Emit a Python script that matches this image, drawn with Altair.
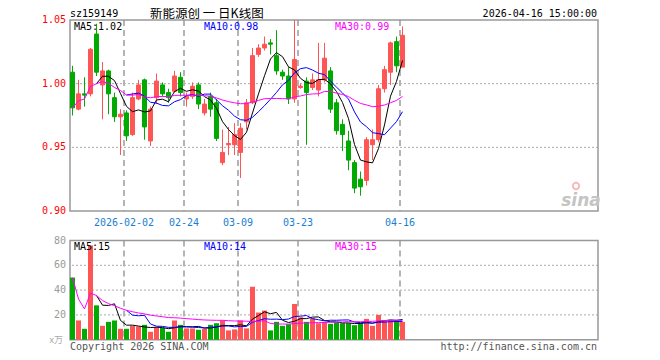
import altair as alt
import pandas as pd

# ---------------- data ----------------
dates = ["2026-01-20", "2026-01-21", "2026-01-22", "2026-01-23", "2026-01-26", "2026-01-27",
         "2026-01-28", "2026-01-29", "2026-01-30", "2026-02-02", "2026-02-03", "2026-02-04",
         "2026-02-05", "2026-02-06", "2026-02-09", "2026-02-10", "2026-02-11", "2026-02-12",
         "2026-02-13", "2026-02-24", "2026-02-25", "2026-02-26", "2026-02-27", "2026-03-02",
         "2026-03-03", "2026-03-04", "2026-03-05", "2026-03-06", "2026-03-09", "2026-03-10",
         "2026-03-11", "2026-03-12", "2026-03-13", "2026-03-16", "2026-03-17", "2026-03-18",
         "2026-03-19", "2026-03-20", "2026-03-23", "2026-03-24", "2026-03-25", "2026-03-26",
         "2026-03-27", "2026-03-30", "2026-03-31", "2026-04-01", "2026-04-02", "2026-04-03",
         "2026-04-07", "2026-04-08", "2026-04-09", "2026-04-10", "2026-04-13", "2026-04-14",
         "2026-04-15", "2026-04-16"]

opens = [1.009, 0.980, 0.992, 0.992, 1.039, 0.999, 1.010, 0.989, 0.974, 0.977,
         0.960, 0.988, 1.003, 0.955, 0.989, 0.999, 0.993, 0.994, 1.005, 0.988,
         0.990, 0.999, 0.977, 0.990, 0.985, 0.938, 0.952, 0.952, 0.946, 0.970,
         0.985, 1.023, 1.028, 1.032, 1.022, 1.009, 1.006, 0.988, 0.997, 1.002,
         0.997, 0.995, 1.003, 1.010, 0.985, 0.968, 0.955, 0.938, 0.925, 0.924,
         0.952, 0.956, 0.996, 1.009, 1.033, 1.013]
highs = [1.014, 1.003, 1.005, 1.028, 1.047, 1.017, 1.011, 0.993, 0.980, 0.979,
         0.993, 1.003, 1.004, 0.982, 1.008, 1.001, 0.996, 1.010, 1.009, 0.993,
         1.001, 1.001, 0.988, 0.993, 0.988, 0.964, 0.966, 0.969, 0.969, 0.988,
         1.028, 1.031, 1.037, 1.035, 1.042, 1.011, 1.013, 1.050, 1.000, 1.005,
         1.008, 1.032, 1.032, 1.013, 0.988, 0.972, 0.963, 0.940, 0.931, 0.958,
         0.964, 0.999, 1.014, 1.033, 1.037, 1.045]
lows = [0.975, 0.979, 0.982, 0.990, 1.006, 0.972, 0.976, 0.970, 0.944, 0.955,
        0.959, 0.987, 0.956, 0.951, 0.984, 0.990, 0.985, 0.993, 0.990, 0.982,
        0.988, 0.980, 0.975, 0.974, 0.955, 0.936, 0.944, 0.944, 0.926, 0.964,
        0.984, 1.021, 1.026, 1.023, 1.007, 1.003, 0.984, 0.985, 0.996, 0.952,
        0.995, 0.990, 1.001, 0.977, 0.960, 0.947, 0.932, 0.914, 0.912, 0.920,
        0.940, 0.954, 0.993, 0.999, 1.009, 1.013]
closes = [0.981, 0.992, 0.991, 1.027, 1.009, 1.010, 0.992, 0.974, 0.976, 0.959,
          0.989, 0.999, 0.966, 0.980, 1.002, 0.992, 0.989, 1.006, 0.993, 0.990,
          0.998, 0.984, 0.984, 0.980, 0.957, 0.946, 0.953, 0.960, 0.965, 0.985,
          1.022, 1.028, 1.031, 1.031, 1.010, 1.006, 0.988, 1.019, 0.998, 0.993,
          1.003, 1.003, 1.020, 0.980, 0.963, 0.960, 0.940, 0.918, 0.919, 0.956,
          0.956, 0.996, 1.011, 1.032, 1.014, 1.038]
vols = [50.1, 15.5, 8.8, 76.0, 27.7, 11.2, 14.4, 15.5, 8.8, 8.8,
        11.2, 10.7, 12.0, 6.4, 10.1, 9.6, 6.4, 15.5, 12.0, 9.1,
        9.1, 8.0, 8.8, 12.0, 13.3, 15.5, 7.5, 8.3, 15.5, 9.1,
        42.7, 21.9, 23.5, 7.5, 14.4, 11.2, 12.5, 28.8, 18.1, 14.4,
        17.3, 13.3, 14.4, 12.8, 13.9, 13.3, 13.3, 11.7, 13.3, 16.8,
        11.2, 20.0, 15.5, 16.0, 15.5, 14.4]

tick_idx = [9, 19, 28, 38, 55]
tick_labels = ["2026-02-02", "02-24", "03-09", "03-23", "04-16"]
price_ticks = [1.05, 1.00, 0.95, 0.90]
price_tick_labels = ["1.05", "1.00", "0.95", "0.90"]
price_grid = [1.00, 0.95]
vol_ticks = [80, 60, 40, 20]
vol_tick_labels = ["80", "60", "40", "20"]
vol_grid = [60, 40, 20]

df = pd.DataFrame({"idx": list(range(len(dates))), "date": dates, "open": opens,
                   "high": highs, "low": lows, "close": closes, "vol": vols})
df_ticks = pd.DataFrame({"idx": tick_idx, "label": tick_labels})
df_pt = pd.DataFrame({"v": price_ticks, "label": price_tick_labels})
df_pg = pd.DataFrame({"v": price_grid})
df_vt = pd.DataFrame({"v": vol_ticks, "label": vol_tick_labels})
df_vg = pd.DataFrame({"v": vol_grid})
one = pd.DataFrame({"a": [0]})

# ---------------- style ----------------
RED = "#ff5555"
GREEN = "#00aa00"
MONO = "DejaVu Sans Mono"
CJK = "Noto Sans CJK SC"
W, H = 528, 319

xs = alt.Scale(domain=[0, 88], nice=False, zero=False)
ps = alt.Scale(domain=[0.90, 1.05], range=[191, 0], nice=False, zero=False)
vs = alt.Scale(domain=[0, 80], range=[319.7, 220.5], nice=False, zero=False)
cscale = alt.Scale(domain=["up", "down"], range=[RED, GREEN])

base = alt.Chart(df).transform_calculate(
    dir="datum.close >= datum.open ? 'up' : 'down'",
    xc="datum.idx + 2.5/6",
    xb0="datum.idx + 0.5/6",
    xb1="datum.idx + 4.5/6",
    xv1="datum.idx + 5/6",
)

# ---------------- price panel ----------------
pgrid = alt.Chart(df_pg).mark_rule(color="#aaaaaa", strokeDash=[2, 2], strokeWidth=1).encode(
    y=alt.Y("v:Q", scale=ps, axis=None))
pvl = alt.Chart(df_ticks).mark_rule(color="#b4b4b4", strokeDash=[6, 4], strokeWidth=2).encode(
    x=alt.X("idx:Q", scale=xs, axis=None),
    y=alt.YDatum(1.05, axis=None), y2=alt.Y2Datum(0.90))
pframe = alt.Chart(one).mark_rect(fillOpacity=0, stroke="#999999", strokeWidth=1.5).encode(
    x=alt.XDatum(0, axis=None), x2=alt.X2Datum(88),
    y=alt.YDatum(1.05, axis=None), y2=alt.Y2Datum(0.90))
wick = base.mark_rule(strokeWidth=1).encode(
    x=alt.X("xc:Q", scale=xs, axis=None),
    y=alt.Y("high:Q", scale=ps, axis=None), y2="low:Q",
    color=alt.Color("dir:N", scale=cscale, legend=None))
body = base.mark_bar(strokeWidth=1).encode(
    x=alt.X("xb0:Q", scale=xs, axis=None), x2="xb1:Q",
    y=alt.Y("open:Q", scale=ps, axis=None), y2="close:Q",
    color=alt.Color("dir:N", scale=cscale, legend=None),
    stroke=alt.Stroke("dir:N", scale=cscale, legend=None))


def ma_line(field, n, color, scale, full):
    c = alt.Chart(df).transform_window(
        ma=f"mean({field})", frame=[-(n - 1), 0], sort=[alt.SortField("idx")])
    if full:
        c = c.transform_filter(f"datum.idx >= {n - 1}")
    return c.transform_calculate(xc="datum.idx + 2.5/6").mark_line(
        color=color, strokeWidth=1).encode(
        x=alt.X("xc:Q", scale=xs, axis=None),
        y=alt.Y("ma:Q", scale=scale, axis=None))


pma5 = ma_line("close", 5, "#000000", ps, True)
pma10 = ma_line("close", 10, "#0000ff", ps, True)
pma30 = ma_line("close", 30, "#ff00ff", ps, False)
plab = alt.Chart(df_pt).mark_text(align="right", baseline="middle", font=MONO, fontSize=10,
                                  color="#ff0000").encode(
    x=alt.value(-4), y=alt.Y("v:Q", scale=ps, axis=None), text="label:N")

price_group = alt.layer(pgrid, pvl, pframe, wick, body, pma5, pma10, pma30, plab)

# ---------------- volume panel ----------------
vgrid = alt.Chart(df_vg).mark_rule(color="#aaaaaa", strokeDash=[2, 2], strokeWidth=1).encode(
    y=alt.Y("v:Q", scale=vs, axis=None))
vvl = alt.Chart(df_ticks).mark_rule(color="#b4b4b4", strokeDash=[6, 4], strokeWidth=2).encode(
    x=alt.X("idx:Q", scale=xs, axis=None),
    y=alt.YDatum(80, axis=None), y2=alt.Y2Datum(0))
vframe = alt.Chart(one).mark_rect(fillOpacity=0, stroke="#999999", strokeWidth=1.5).encode(
    x=alt.XDatum(0, axis=None), x2=alt.X2Datum(88),
    y=alt.YDatum(80, axis=None), y2=alt.Y2Datum(0))
vbars = base.mark_bar().encode(
    x=alt.X("idx:Q", scale=xs, axis=None), x2="xv1:Q",
    y=alt.Y("vol:Q", scale=vs, axis=None), y2=alt.Y2Datum(0),
    color=alt.Color("dir:N", scale=cscale, legend=None))
vma5 = ma_line("vol", 5, "#000000", vs, True)
vma10 = ma_line("vol", 10, "#0000ff", vs, True)
vma30 = ma_line("vol", 30, "#ff00ff", vs, False)
vlab = alt.Chart(df_vt).mark_text(align="right", baseline="middle", font=MONO, fontSize=10,
                                  color="#999999").encode(
    x=alt.value(-4), y=alt.Y("v:Q", scale=vs, axis=None), text="label:N")

vol_group = alt.layer(vgrid, vvl, vframe, vbars, vma5, vma10, vma30, vlab)

# ---------------- texts ----------------
dlab = alt.Chart(df_ticks).mark_text(align="center", baseline="alphabetic", font=MONO,
                                     fontSize=10, color="#1a7fd0").encode(
    x=alt.X("idx:Q", scale=xs, axis=None), y=alt.value(206), text="label:N")


def label(txt, x, y, color="#000000", align="left", size=10, font=MONO, **kw):
    return alt.Chart(one).mark_text(text=txt, align=align, baseline="alphabetic", font=font,
                                    fontSize=size, color=color, **kw).encode(
        x=alt.value(x), y=alt.value(y))


logo_eye = alt.Chart(one).mark_point(shape="circle", size=40, filled=False, color="#f3a0a0",
                                     strokeWidth=2).encode(x=alt.value(506), y=alt.value(166))

texts = alt.layer(
    dlab,
    label("sz159149", 0, -3, "#000000"),
    label("新能源创 一 日K线图", 80, -2, "#000000", size=12.5, font=CJK),
    label("2026-04-16 15:00:00", 527, -3, "#000000", align="right"),
    label("MA5:1.02", 4, 10, "#000000"),
    label("MA10:0.98", 134, 10, "#0000ff"),
    label("MA30:0.99", 265, 10, "#ff00ff"),
    label("MA5:15", 4, 230, "#000000"),
    label("MA10:14", 134, 230, "#0000ff"),
    label("MA30:15", 265, 230, "#ff00ff"),
    label("x万", -7, 323, "#aaaaaa", align="right", size=9, font=CJK),
    label("Copyright 2026 SINA.COM", 0, 330, "#555555"),
    label("http://finance.sina.com.cn", 527, 330, "#555555", align="right"),
    logo_eye,
    label("sina", 511, 186, "#c4c4c4", align="center", size=17, font="DejaVu Sans",
          fontStyle="italic", fontWeight="bold"),
)

chart = alt.layer(price_group, vol_group, texts).resolve_scale(
    y="independent"
).properties(
    width=W, height=H,
    autosize=alt.AutoSizeParams(type="none"),
    padding={"left": 62, "top": 12, "right": 40, "bottom": 20},
).configure_view(strokeWidth=0)

chart.save("out.html", embed_options={"renderer": "svg", "actions": False})
